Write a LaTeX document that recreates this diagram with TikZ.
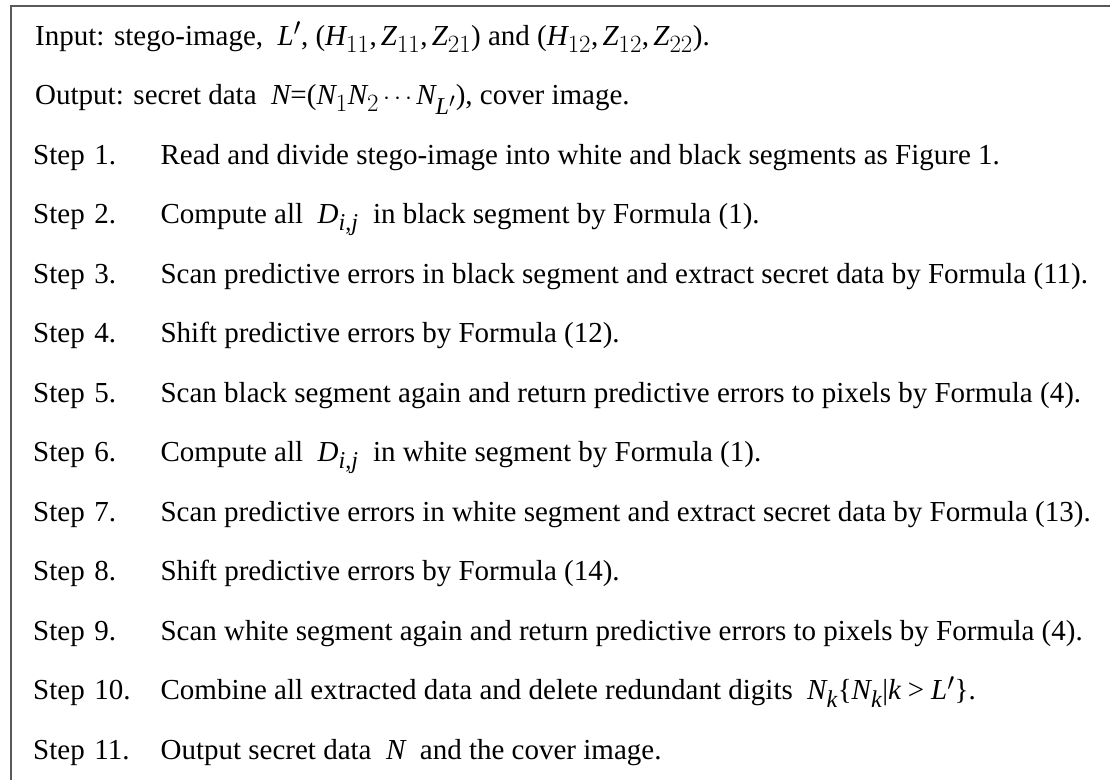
\documentclass[tikz,border=0pt]{standalone}
\usepackage{fontspec}
\setmainfont{Liberation Serif}
\usepackage[italic]{mathastext}
\usetikzlibrary{positioning}

\begin{document}
\begin{tikzpicture}[
    x=1pt, y=-1pt,
    frame/.style={draw=black!65, line width=1.6pt},
    txt/.style={anchor=base west, inner sep=0pt, font=\fontsize{29}{34}\selectfont},
    steplabel/.style={txt, text width=127pt},
    steptext/.style={txt, base right=0pt of #1}
]
    \useasboundingbox (0,0) rectangle (1110,780);
    \draw[frame] (1110,6) -- (11,6) -- (11,780);

    \node[txt] (input) at (35,45) {Input: stego-image, \ $L'$, ($H_{11}, Z_{11}, Z_{21}$) and ($H_{12}, Z_{12}, Z_{22}$).};
    \node[txt] (output) at (35,104.5) {Output: secret data \ $N$=($N_1N_2\cdots N_{L'}$), cover image.};

    % Steps
    \node[steplabel] (s1) at (33,164) {Step 1.};
    \node[steplabel] (s2) at (33,223.5) {Step 2.};
    \node[steplabel] (s3) at (33,283) {Step 3.};
    \node[steplabel] (s4) at (33,342.5) {Step 4.};
    \node[steplabel] (s5) at (33,402) {Step 5.};
    \node[steplabel] (s6) at (33,461.5) {Step 6.};
    \node[steplabel] (s7) at (33,521) {Step 7.};
    \node[steplabel] (s8) at (33,580.5) {Step 8.};
    \node[steplabel] (s9) at (33,640) {Step 9.};
    \node[steplabel] (s10) at (33,699.5) {Step 10.};
    \node[steplabel] (s11) at (33,759) {Step 11.};

    \node[steptext=s1] (t1) {Read and divide stego-image into white and black segments as Figure 1.};
    \node[steptext=s2] (t2) {Compute all \ $D_{i,j}$ \ in black segment by Formula (1).};
    \node[steptext=s3] (t3) {Scan predictive errors in black segment and extract secret data by Formula (11).};
    \node[steptext=s4] (t4) {Shift predictive errors by Formula (12).};
    \node[steptext=s5] (t5) {Scan black segment again and return predictive errors to pixels by Formula (4).};
    \node[steptext=s6] (t6) {Compute all \ $D_{i,j}$ \ in white segment by Formula (1).};
    \node[steptext=s7] (t7) {Scan predictive errors in white segment and extract secret data by Formula (13).};
    \node[steptext=s8] (t8) {Shift predictive errors by Formula (14).};
    \node[steptext=s9] (t9) {Scan white segment again and return predictive errors to pixels by Formula (4).};
    \node[steptext=s10] (t10) {Combine all extracted data and delete redundant digits \ $N_k\{N_k|k>L'\}$.};
    \node[steptext=s11] (t11) {Output secret data \ $N$ \ and the cover image.};
\end{tikzpicture}
\end{document}
